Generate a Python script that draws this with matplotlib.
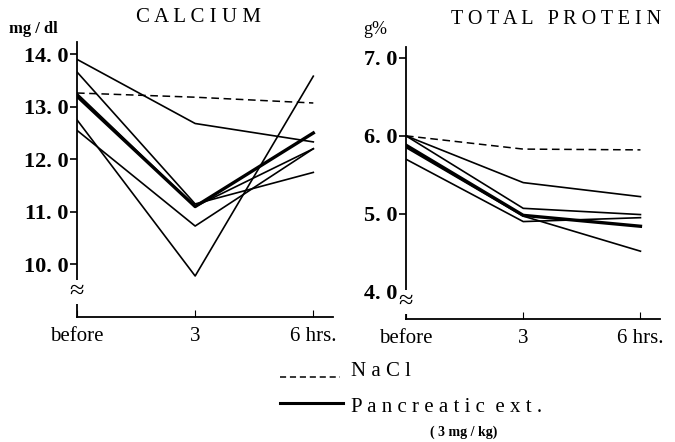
import matplotlib
matplotlib.use("Agg")
import matplotlib.pyplot as plt
from matplotlib.lines import Line2D
from matplotlib.transforms import blended_transform_factory

plt.rcParams['font.family'] = ['Liberation Serif', 'DejaVu Serif']

hours = [0, 3, 6]
x_labels = ["before", "3", "6 hrs."]

# calcium, mg/dl
ca_nacl = [13.26, 13.18, 13.07]
ca_mean = [13.2, 11.1, 12.5]
ca_each = [
    [13.9, 12.68, 12.33],
    [13.66, 11.15, 11.75],
    [13.25, 11.1, 12.2],
    [12.75, 9.78, 13.58],
    [12.55, 10.73, 12.2],
]
ca_ticks = [10.0, 11.0, 12.0, 13.0, 14.0]

# total protein, g%
tp_nacl = [6.0, 5.83, 5.82]
tp_mean = [5.88, 4.98, 4.84]
tp_each = [
    [6.0, 5.4, 5.22],
    [6.0, 5.07, 4.99],
    [5.7, 4.9, 4.95],
    [5.85, 4.97, 4.52],
]
tp_ticks = [4.0, 5.0, 6.0, 7.0]

fig = plt.figure(figsize=(6.75, 4.42), dpi=100)
W, H = 675, 442


def px_axes(x0, y0, x1, y1):
    return fig.add_axes([x0 / W, 1 - y1 / H, (x1 - x0) / W, (y1 - y0) / H])


def style(ax, ticks, brk, fs):
    for s in ("top", "right"):
        ax.spines[s].set_visible(False)
    for s in ("left", "bottom"):
        ax.spines[s].set_linewidth(1.3)
    ax.set_xticks(hours)
    ax.set_xticklabels(x_labels, fontsize=15)
    ax.tick_params(axis="x", direction="in", length=5, pad=7)
    ax.set_yticks(ticks)
    ax.set_yticklabels(["%d. %d" % (int(t), round(t * 10) % 10) for t in ticks],
                       fontsize=fs, fontweight="bold")
    ax.tick_params(axis="y", direction="out", length=5, width=1.2, pad=1)
    tr = blended_transform_factory(ax.transAxes, ax.transData)
    ax.text(0, brk, "≈", transform=tr, ha="center", va="center", fontsize=19,
            bbox=dict(fc="white", ec="none", pad=0.5), clip_on=False)


ax1 = px_axes(77, 42, 333, 317)
ax1.set_xlim(0, 6.5)
ax1.set_ylim(9.0, 14.23)
for v in ca_each:
    ax1.plot(hours, v, color="black", lw=1.2)
ax1.plot(hours, ca_mean, color="black", lw=2.4)
ax1.plot(hours, ca_nacl, color="black", lw=1.1, ls=(0, (5, 3)))
style(ax1, ca_ticks, 9.48, 16)

ax2 = px_axes(406, 47, 660, 319)
ax2.set_xlim(0, 6.5)
ax2.set_ylim(3.65, 7.14)
for v in tp_each:
    ax2.plot(hours, v, color="black", lw=1.2)
ax2.plot(hours, tp_mean, color="black", lw=2.4)
ax2.plot(hours, tp_nacl, color="black", lw=1.1, ls=(0, (5, 3)))
style(ax2, tp_ticks, 3.87, 16)

fig.text(198 / W, 1 - 18 / H, "C A L C I U M", ha="center", va="center", fontsize=15)
fig.text(556 / W, 1 - 20 / H, "T O T A L   P R O T E I N", ha="center", va="center", fontsize=14.5)
fig.text(33 / W, 1 - 29 / H, "mg / dl", ha="center", va="center", fontsize=12, fontweight="bold")
fig.text(375 / W, 1 - 30 / H, "g%", ha="center", va="center", fontsize=13)

# legend
fig.add_artist(Line2D([280 / W, 340 / W], [1 - 377 / H] * 2, color="black", lw=1.1,
                      ls=(0, (4, 2.5))))
fig.add_artist(Line2D([280 / W, 343 / W], [1 - 403 / H] * 2, color="black", lw=2.2))
fig.text(351 / W, 1 - 372 / H, "N a C l", ha="left", va="center", fontsize=15)
fig.text(351 / W, 1 - 407 / H, "P a n c r e a t i c  e x t .", ha="left", va="center", fontsize=15)
fig.text(430 / W, 1 - 432 / H, "( 3 mg / kg)", ha="left", va="center", fontsize=10,
         fontweight="bold")

fig.savefig("out.png", dpi=100)
